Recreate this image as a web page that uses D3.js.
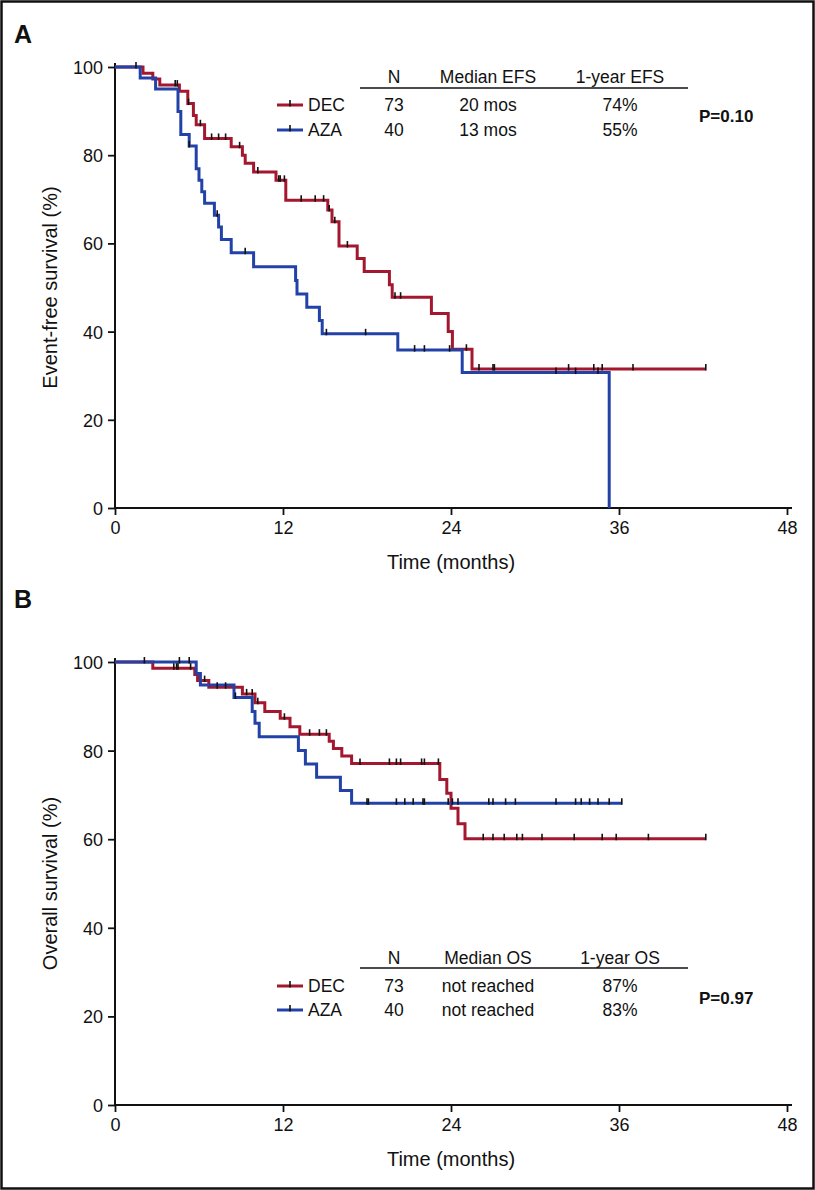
<!DOCTYPE html>
<html><head><meta charset="utf-8">
<script src="https://cdn.jsdelivr.net/npm/d3@7"></script>
<style>
body{margin:0;background:#fff}
svg{display:block}
text{font-family:"Liberation Sans",Arial,Helvetica,sans-serif;fill:#111}
</style>
</head><body>
<svg id="c" width="815" height="1190"></svg>
<script>
// ---------- data ----------
const timeTicks = [0, 12, 24, 36, 48];
const survTicks = [0, 20, 40, 60, 80, 100];
const seriesNames = ["DEC", "AZA"];
const seriesN = [73, 40];

// Panel A: event-free survival
const efsDecTime = [0, 2.0, 2.7, 3.2, 4.6, 5.2, 5.6, 5.8, 6.4, 8.3, 9.1, 9.3, 9.9, 11.5, 12.2, 15.2, 15.5, 16.0, 17.3, 17.8, 19.6, 19.8, 22.6, 23.8, 24.1, 25.5];
const efsDecSurv = [100, 98.6, 97.3, 95.9, 94.5, 91.7, 89.0, 86.9, 83.8, 81.9, 80.0, 78.2, 76.2, 74.3, 69.8, 67.6, 64.9, 59.4, 56.6, 53.6, 50.6, 47.8, 44.1, 40.0, 36.0, 31.5];
const efsDecEnd = 42.2;
const efsDecCens = [1.5, 4.3, 4.45, 5.25, 6.1, 6.9, 7.4, 7.9, 8.9, 10.2, 11.7, 11.8, 12.1, 13.3, 14.3, 14.9, 15.3, 15.7, 16.6, 20.0, 20.4, 25.1, 26.0, 27.0, 27.1, 32.4, 34.2, 34.8, 37.0, 42.2];

const efsAzaTime = [0, 1.8, 2.9, 4.5, 4.7, 5.3, 5.8, 6.0, 6.2, 6.4, 7.1, 7.4, 7.6, 8.3, 9.9, 12.9, 13.0, 13.7, 14.6, 14.8, 20.2, 24.8, 35.3];
const efsAzaSurv = [100, 97.5, 95.0, 89.9, 84.7, 82.1, 76.9, 74.3, 71.7, 69.1, 66.4, 63.7, 60.9, 57.9, 54.7, 51.6, 48.5, 45.5, 42.5, 39.5, 35.8, 30.7, 0];
const efsAzaEnd = 35.3;
const efsAzaCens = [5.3, 7.3, 9.3, 15.1, 17.9, 21.4, 22.1, 23.9, 31.5, 32.9, 34.5];

// Panel B: overall survival
const osDecTime = [0, 2.7, 5.7, 5.9, 6.7, 9.1, 10.0, 10.7, 11.8, 12.5, 13.2, 15.3, 15.6, 16.2, 16.9, 23.2, 23.7, 24.0, 24.5, 25.0];
const osDecSurv = [100, 98.6, 97.2, 95.8, 94.3, 92.8, 90.8, 88.8, 87.3, 85.4, 83.7, 82.1, 80.5, 78.8, 77.1, 73.5, 70.4, 67.0, 63.5, 60.1];
const osDecEnd = 42.2;
const osDecCens = [4.2, 4.4, 4.5, 5.4, 6.4, 7.3, 7.9, 9.4, 9.8, 10.2, 12.1, 13.9, 14.6, 15.1, 17.5, 19.6, 20.1, 20.4, 21.9, 22.1, 23.1, 26.3, 27.0, 27.8, 28.7, 29.1, 30.5, 32.8, 34.8, 35.8, 38.1, 42.2];

const osAzaTime = [0, 5.8, 6.1, 8.5, 9.8, 10.0, 10.3, 13.1, 13.6, 14.4, 16.1, 16.9];
const osAzaSurv = [100, 97.4, 94.8, 92.0, 88.8, 86.2, 83.1, 80.0, 77.0, 74.0, 71.0, 68.1];
const osAzaEnd = 36.2;
const osAzaCens = [2.1, 4.6, 5.3, 8.6, 18.0, 18.1, 20.1, 20.7, 21.3, 22.0, 22.1, 23.8, 24.1, 24.5, 26.7, 27.0, 27.9, 28.6, 31.5, 32.9, 33.3, 33.9, 34.5, 35.3, 36.2];

// legend table
const efsHeader = ["N", "Median EFS", "1-year EFS"];
const efsMedian = ["20 mos", "13 mos"];
const efsOneYear = ["74%", "55%"];
const efsP = "P=0.10";
const osHeader = ["N", "Median OS", "1-year OS"];
const osMedian = ["not reached", "not reached"];
const osOneYear = ["87%", "83%"];
const osP = "P=0.97";

// ---------- drawing ----------
const colors = ["#a3172f", "#2242a8"];
const svg = d3.select("#c");
const FONT = "\"Liberation Sans\",Arial,sans-serif";

svg.append("rect").attr("x", 1.5).attr("y", 1.5).attr("width", 812).attr("height", 1187)
  .attr("fill", "none").attr("stroke", "#111").attr("stroke-width", 2.5);

function survAt(times, surv, t) {
  let s = surv[0];
  for (let i = 0; i < times.length; i++) if (times[i] <= t) s = surv[i];
  return s;
}

function panel(cfg) {
  const x = d3.scaleLinear().domain([0, 48]).range([115, 787]);
  const y = d3.scaleLinear().domain([0, 100]).range([cfg.y0, cfg.y100]);
  const g = svg.append("g");

  // axes
  const ax = g.append("g").attr("transform", `translate(0,${cfg.y0})`)
    .call(d3.axisBottom(x).tickValues(timeTicks).tickSize(7).tickSizeOuter(0).tickPadding(6));
  const ay = g.append("g").attr("transform", `translate(115,0)`)
    .call(d3.axisLeft(y).tickValues(survTicks).tickSize(7).tickSizeOuter(0).tickPadding(5));
  [ax, ay].forEach(a => {
    a.select(".domain").remove();
    a.selectAll(".tick line").attr("stroke", "#111").attr("stroke-width", 1.8);
    a.selectAll(".tick text").attr("font-size", 18).attr("font-family", FONT).attr("fill", "#111");
  });
  ay.selectAll(".tick text").attr("dy", "0.36em");
  // axis lines (slightly overshooting the last ticks, as in the original)
  g.append("line").attr("x1", x(0)).attr("x2", x(48) + 5).attr("y1", cfg.y0).attr("y2", cfg.y0)
    .attr("stroke", "#111").attr("stroke-width", 2);
  g.append("line").attr("x1", x(0)).attr("x2", x(0)).attr("y1", cfg.y0 + 1).attr("y2", y(100) - 4)
    .attr("stroke", "#111").attr("stroke-width", 2);

  // titles
  g.append("text").attr("x", 451).attr("y", cfg.y0 + 61).attr("text-anchor", "middle")
    .attr("font-size", 20).text("Time (months)");
  g.append("text").attr("transform", `translate(57,${(cfg.y0 + cfg.y100) / 2}) rotate(-90)`)
    .attr("text-anchor", "middle").attr("font-size", 20).text(cfg.ytitle);
  g.append("text").attr("x", 14).attr("y", cfg.letterY).attr("font-size", 25)
    .attr("font-weight", "bold").text(cfg.letter);

  // curves
  const line = d3.line().x(d => x(d[0])).y(d => y(d[1])).curve(d3.curveStepAfter);
  cfg.series.forEach((s, i) => {
    const pts = s.time.map((t, k) => [t, s.surv[k]]);
    pts.push([s.end, s.surv[s.surv.length - 1]]);
    g.append("path").attr("d", line(pts)).attr("fill", "none")
      .attr("stroke", colors[i]).attr("stroke-width", 3);
  });
  cfg.series.forEach((s, i) => {
    g.append("g").selectAll("line").data(s.cens).join("line")
      .attr("x1", d => x(d)).attr("x2", d => x(d))
      .attr("y1", d => y(survAt(s.time, s.surv, d)) - 5)
      .attr("y2", d => y(survAt(s.time, s.surv, d)) + 1.5)
      .attr("stroke", "#111").attr("stroke-width", 1.6);
  });

  // legend table
  const L = cfg.leg;
  const cols = [394, 488, 620];
  cfg.header.forEach((h, k) => g.append("text").attr("x", cols[k]).attr("y", L.header)
    .attr("text-anchor", "middle").attr("font-size", 17.5).text(h));
  g.append("line").attr("x1", 360).attr("x2", 688).attr("y1", L.rule).attr("y2", L.rule)
    .attr("stroke", "#111").attr("stroke-width", 1.5);
  seriesNames.forEach((nm, i) => {
    const by = L.rows[i];
    const cy = by - 6;
    g.append("line").attr("x1", 277).attr("x2", 303).attr("y1", cy).attr("y2", cy)
      .attr("stroke", colors[i]).attr("stroke-width", 3);
    g.append("line").attr("x1", 290).attr("x2", 290).attr("y1", cy - 5).attr("y2", cy + 1.5)
      .attr("stroke", "#111").attr("stroke-width", 1.6);
    g.append("text").attr("x", 308).attr("y", by).attr("font-size", 17.5).text(nm);
    g.append("text").attr("x", cols[0]).attr("y", by).attr("text-anchor", "middle").attr("font-size", 17.5).text(seriesN[i]);
    g.append("text").attr("x", cols[1]).attr("y", by).attr("text-anchor", "middle").attr("font-size", 17.5).text(cfg.median[i]);
    g.append("text").attr("x", cols[2]).attr("y", by).attr("text-anchor", "middle").attr("font-size", 17.5).text(cfg.oneyear[i]);
  });
  g.append("text").attr("x", 699).attr("y", L.p).attr("font-size", 17).attr("font-weight", "bold").text(cfg.p);
}

panel({
  y0: 508, y100: 67, letter: "A", letterY: 43, ytitle: "Event-free survival (%)",
  series: [
    {time: efsDecTime, surv: efsDecSurv, end: efsDecEnd, cens: efsDecCens},
    {time: efsAzaTime, surv: efsAzaSurv, end: efsAzaEnd, cens: efsAzaCens}
  ],
  header: efsHeader, median: efsMedian, oneyear: efsOneYear, p: efsP,
  leg: {header: 83, rule: 88, rows: [111, 136], p: 122}
});
panel({
  y0: 1105, y100: 662, letter: "B", letterY: 608, ytitle: "Overall survival (%)",
  series: [
    {time: osDecTime, surv: osDecSurv, end: osDecEnd, cens: osDecCens},
    {time: osAzaTime, surv: osAzaSurv, end: osAzaEnd, cens: osAzaCens}
  ],
  header: osHeader, median: osMedian, oneyear: osOneYear, p: osP,
  leg: {header: 964, rule: 968, rows: [992, 1016], p: 1004}
});
</script>
</body></html>
